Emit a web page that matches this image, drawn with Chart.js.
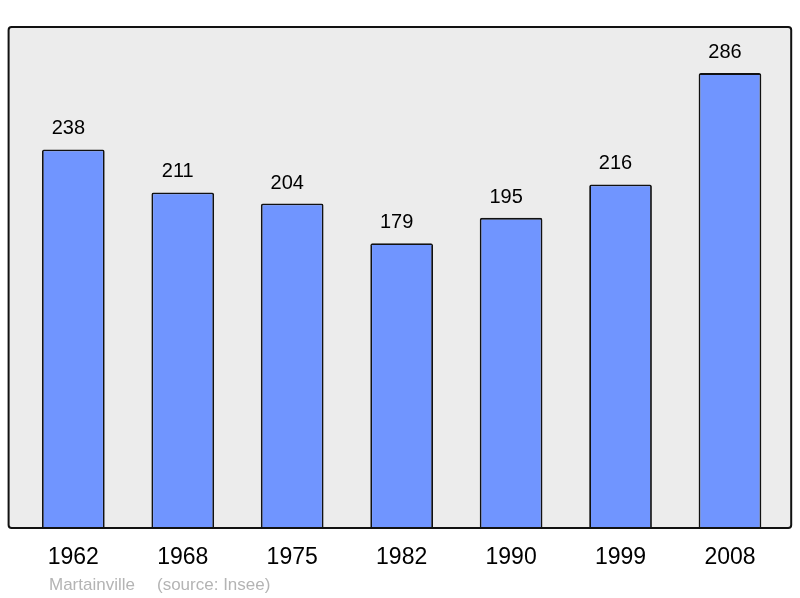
<!DOCTYPE html>
<html>
<head>
<meta charset="utf-8">
<script src="https://cdn.jsdelivr.net/npm/chart.js@4/dist/chart.umd.min.js"></script>
<style>
  html, body { margin: 0; padding: 0; background: #fff; }
  #wrap { width: 800px; height: 598px; }
</style>
</head>
<body>
<div id="wrap"><canvas id="myChart" width="800" height="598"></canvas></div>
<script>
var years = ['1962', '1968', '1975', '1982', '1990', '1999', '2008'];
var population = [238, 211, 204, 179, 195, 216, 286];
var yMax = 315;
var commune = 'Martainville';
var source = '(source: Insee)';

// grey frame behind the bars, black outline drawn on top
var framePlugin = {
  id: 'frame',
  beforeDraw: function (chart) {
    var a = chart.chartArea, ctx = chart.ctx;
    ctx.save();
    roundBox(ctx, a.left - 10, a.top, a.right - a.left + 16.5, a.bottom - a.top, 3);
    ctx.fillStyle = '#ececec';
    ctx.fill();
    ctx.restore();
  },
  afterDatasetsDraw: function (chart) {
    var a = chart.chartArea, ctx = chart.ctx;
    var meta = chart.getDatasetMeta(0);
    ctx.save();
    ctx.font = '20px "Liberation Sans", Arial, sans-serif';
    ctx.fillStyle = '#000';
    ctx.textAlign = 'center';
    ctx.textBaseline = 'alphabetic';
    meta.data.forEach(function (bar, i) {
      ctx.fillText(String(population[i]), bar.x - 5, bar.y - 15);
    });
    roundBox(ctx, a.left - 10, a.top, a.right - a.left + 16.5, a.bottom - a.top, 3);
    ctx.lineWidth = 2;
    ctx.strokeStyle = '#111';
    ctx.stroke();
    ctx.font = '17px "Liberation Sans", Arial, sans-serif';
    ctx.fillStyle = '#b4b4b4';
    ctx.textAlign = 'left';
    ctx.fillText(commune, 49, 590);
    ctx.fillText(source, 157, 590);
    ctx.restore();
  }
};

function roundBox(ctx, x, y, w, h, r) {
  ctx.beginPath();
  ctx.moveTo(x + r, y);
  ctx.arcTo(x + w, y, x + w, y + h, r);
  ctx.arcTo(x + w, y + h, x, y + h, r);
  ctx.arcTo(x, y + h, x, y, r);
  ctx.arcTo(x, y, x + w, y, r);
  ctx.closePath();
}

var myChart = document.getElementById('myChart').getContext('2d');
var chart = new Chart(myChart, {
  type: 'bar',
  data: {
    labels: years,
    datasets: [{
      data: population,
      backgroundColor: '#7095ff',
      borderColor: '#111',
      borderWidth: 1.8,
      borderRadius: 2,
      borderSkipped: 'bottom',
      barPercentage: 0.573,
      categoryPercentage: 1
    }]
  },
  options: {
    responsive: false,
    animation: false,
    events: [],
    layout: { padding: { left: 18.6, right: 15.3, top: 27, bottom: 0 } },
    plugins: { legend: { display: false }, tooltip: { enabled: false } },
    scales: {
      x: {
        grid: { display: false, drawTicks: false },
        border: { display: false },
        ticks: {
          padding: 16,
          color: '#000',
          font: { family: '"Liberation Sans", Arial, sans-serif', size: 23 }
        },
        afterFit: function (s) { s.height = 70; }
      },
      y: {
        display: false,
        min: 0,
        max: yMax
      }
    }
  },
  plugins: [framePlugin]
});
</script>
</body>
</html>
